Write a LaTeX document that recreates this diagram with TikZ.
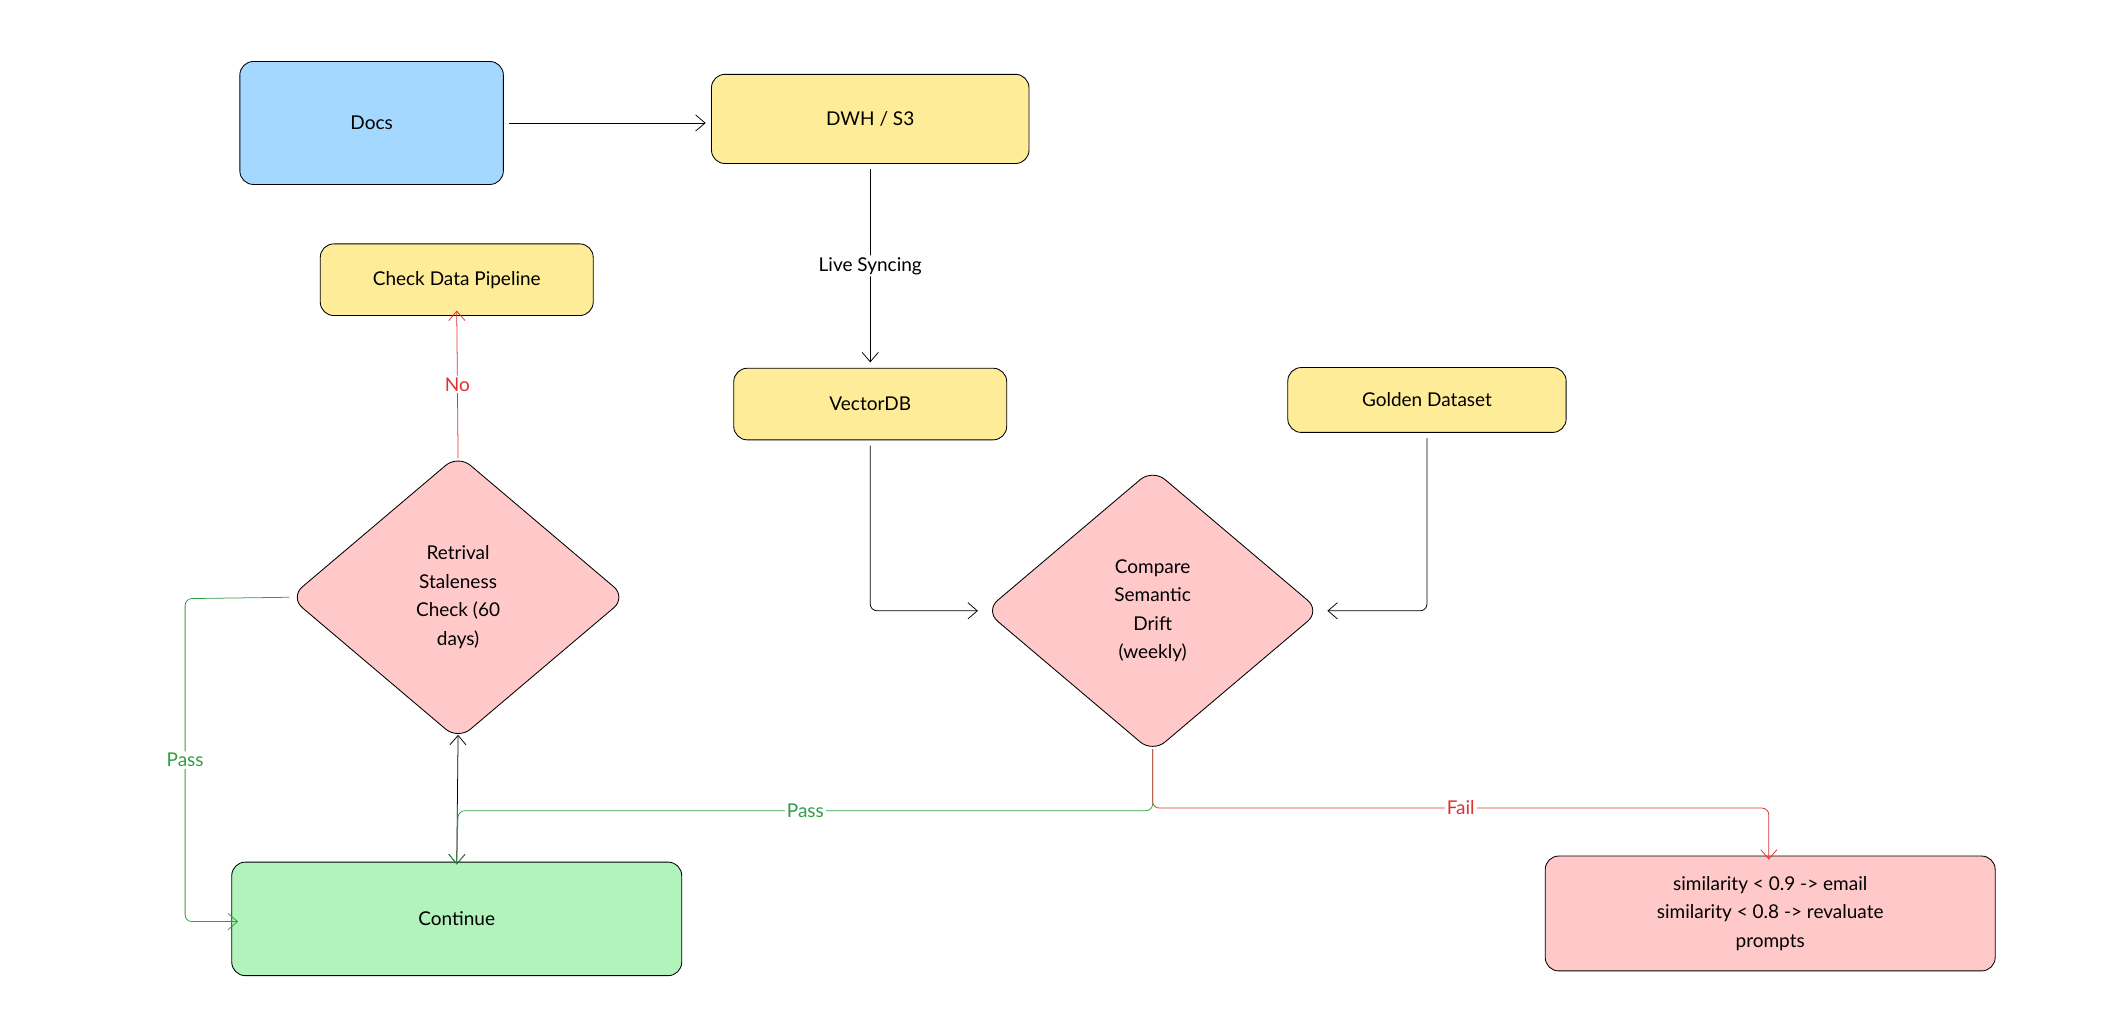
\documentclass[tikz,border=0pt]{standalone}
\usepackage{fontspec}
\setmainfont{Lato}
\usetikzlibrary{shapes.geometric,arrows.meta}
\definecolor{cblue}{HTML}{A5D8FF}
\definecolor{cyel}{HTML}{FFEC99}
\definecolor{cred}{HTML}{FFC9C9}
\definecolor{cgreen}{HTML}{B2F2BB}
\definecolor{lred}{HTML}{E03131}
\definecolor{lgreen}{HTML}{2F9E44}
\begin{document}
\begin{tikzpicture}[x=0.05cm,y=-0.05cm,
 box/.style={draw=black,line width=0.9pt,rounded corners=0.5cm,align=center,font=\fontsize{20}{30}\selectfont,inner sep=0},
 dia/.style={draw=black,line width=0.9pt,diamond,rounded corners=0.6cm,align=center,fill=cred,font=\fontsize{20}{30}\selectfont,inner sep=0},
 arr/.style={line width=0.8pt,-{Straight Barb[length=0.35cm,width=0.6cm]},rounded corners=0.25cm},
 lab/.style={font=\fontsize{20}{24}\selectfont,fill=white,inner sep=2pt}]
\useasboundingbox (0,0) rectangle (1560,762);
\node[box,fill=cblue,minimum width=9.75cm,minimum height=4.55cm] (docs) at (275,91) {Docs};
\node[box,fill=cyel,minimum width=11.75cm,minimum height=3.3cm] (dwh) at (644,88) {DWH / S3};
\node[box,fill=cyel,minimum width=10.1cm,minimum height=2.65cm] (cdp) at (338,207) {Check Data Pipeline};
\node[box,fill=cyel,minimum width=10.1cm,minimum height=2.65cm] (vdb) at (644,299) {VectorDB};
\node[box,fill=cyel,minimum width=10.3cm,minimum height=2.4cm] (gold) at (1056,296) {Golden Dataset};
\node[dia,minimum width=12.45cm,minimum height=10.55cm] (ret) at (339,442) {Retrival\\Staleness\\Check (60\\days)};
\node[dia,minimum width=12.4cm,minimum height=10.5cm] (cmp) at (853,452) {Compare\\Semantic\\Drift\\(weekly)};
\node[box,fill=cgreen,minimum width=16.65cm,minimum height=4.2cm] (cont) at (338,680) {Continue};
\node[box,fill=cred,minimum width=16.65cm,minimum height=4.25cm] (sim) at (1310,676) {similarity < 0.9 -> email\\similarity < 0.8 -> revaluate\\prompts};
\coordinate (a1) at (644,452);
\coordinate (a2) at (1056,452);
\coordinate (p1) at (137,443);
\coordinate (p2) at (137,682);
\coordinate (q1) at (853,600);
\coordinate (q2) at (339,600);
\coordinate (r1) at (853,598);
\coordinate (r2) at (1309,598);
\draw[arr] ([xshift=0.2cm]docs.east) -- ([xshift=-0.2cm]docs.east -| dwh.west);
\draw[arr] ([yshift=-0.2cm]dwh.south) -- node[lab]{Live Syncing} ([yshift=0.2cm]vdb.north);
\draw[arr,lred] ([yshift=-0.15cm]ret.north) -- node[lab,text=lred]{No} ([yshift=0.2cm]cdp.south);
\draw[arr] ([yshift=-0.2cm]vdb.south) -- (a1) -- ([xshift=-0.25cm]cmp.west);
\draw[arr] ([yshift=-0.2cm]gold.south) -- (a2) -- ([xshift=0.25cm]cmp.east);
\draw[arr,lgreen] (ret.west) -- (p1) -- node[lab,text=lgreen,pos=0.5]{Pass} (p2) -- ([xshift=0.25cm]cont.west |- p2);
\draw[arr,{Straight Barb[length=0.35cm,width=0.6cm]}-{Straight Barb[length=0.35cm,width=0.6cm]}] ([yshift=0.2cm]ret.south) -- ([yshift=-0.1cm]cont.north);
\draw[arr,lgreen] ([yshift=0.15cm]cmp.south) -- (q1) -- node[lab,text=lgreen,pos=0.5]{Pass} (q2) -- ([yshift=-0.1cm]cont.north);
\draw[arr,lred] ([yshift=0.15cm]cmp.south) -- (r1) -- node[lab,text=lred,pos=0.5]{Fail} (r2) -- ([yshift=-0.15cm]sim.north -| r2);
\end{tikzpicture}
\end{document}
